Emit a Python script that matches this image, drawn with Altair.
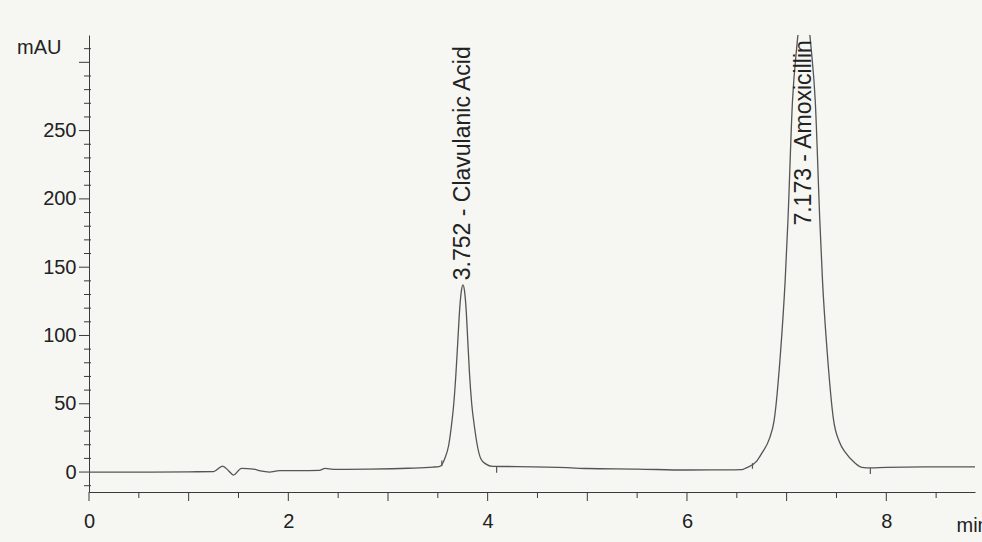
import altair as alt
import pandas as pd

# ---- data ----
# trace: retention time (min) and absorbance (mAU)
time_min = [
    0.00, 0.50, 1.00, 1.25, 1.34, 1.40, 1.45, 1.53, 1.65, 1.72, 1.81, 1.91,
    2.10, 2.31, 2.37, 2.45, 2.80, 3.20, 3.45,
    3.52, 3.57, 3.61, 3.635, 3.66, 3.68, 3.70, 3.72, 3.737, 3.752, 3.767,
    3.785, 3.80, 3.818, 3.84, 3.868, 3.895, 3.93, 3.98, 4.05,
    4.30, 4.80, 5.00, 5.50, 6.00, 6.30, 6.55,
    6.593, 6.70, 6.753, 6.83, 6.875, 6.938, 6.985, 7.013, 7.059, 7.10, 7.138,
    7.173, 7.208, 7.246, 7.287, 7.333, 7.36, 7.408, 7.471, 7.53, 7.593, 7.68,
    7.753, 7.85, 8.00, 8.50, 8.89,
]
mau = [
    0.0, 0.0, 0.2, 0.3, 4.4, 1.0, -2.2, 2.7, 2.2, 0.8, 0.0, 1.0,
    1.0, 1.2, 2.7, 2.0, 2.2, 2.8, 3.6,
    4.2, 10, 20, 33, 50, 70, 95, 120, 133, 137, 133,
    118, 97, 72, 50, 33, 20, 10, 6, 4.2,
    4.0, 3.2, 2.6, 2.2, 1.5, 1.6, 1.8,
    3, 8, 14, 25, 38, 87, 140, 184, 272, 310, 335,
    345, 335, 310, 272, 184, 140, 87, 38, 22, 14, 7,
    3.5, 3.0, 3.5, 3.8, 3.8,
]

# peak annotations
peak_rt = [3.752, 7.173]
peak_label_y = [139, 179]
peak_text = ["3.752 -  Clavulanic Acid", "7.173 -  Amoxicillin"]

# integration markers (start above baseline, end below)
mark_rt = [3.54, 4.09, 6.657, 7.84]
mark_y0 = [4.2, 4.0, 2.4, 3.0]
mark_y1 = [8.5, -0.5, 6.5, -1.5]

# axis tick positions
x_labels = [0, 2, 4, 6, 8]
x_minor = [i * 0.5 for i in range(0, 18)]
y_labels = [0, 50, 100, 150, 200, 250]
y_minor = list(range(-10, 320, 10))

X_MIN, X_MAX = 0, 8.89
Y_MIN, Y_MAX = -14.6, 320
PX_PER_MIN = 886 / (X_MAX - X_MIN)
PX_PER_MAU = 457 / (Y_MAX - Y_MIN)

trace = pd.DataFrame({"t": time_min, "v": mau})
labels = pd.DataFrame({"t": peak_rt, "v": peak_label_y, "txt": peak_text})
marks = pd.DataFrame({"t": mark_rt, "v0": mark_y0, "v1": mark_y1})

# tick tables (lengths are styling, in pixels converted to data units)
xt = pd.DataFrame({
    "t": x_minor,
    "v0": [Y_MIN] * len(x_minor),
    "v1": [Y_MIN - (9 if float(t).is_integer() else 6) / PX_PER_MAU for t in x_minor],
})
yt = pd.DataFrame({
    "v": y_minor,
    "t0": [X_MIN - (10 if v % 50 == 0 else 5) / PX_PER_MIN for v in y_minor],
    "t1": [X_MIN + (0 if v % 50 == 0 else 2) / PX_PER_MIN for v in y_minor],
})

FONT = "Liberation Sans, Arial"
INK = "#3a3a3a"

x_scale = alt.Scale(domain=[X_MIN, X_MAX], nice=False, zero=False)
y_scale = alt.Scale(domain=[Y_MIN, Y_MAX], nice=False, zero=False)

x_axis = alt.Axis(
    values=x_labels, format="d", ticks=False, labelOverlap=False, labelFlush=False,
    grid=False, domainColor=INK, labelColor="#222",
    labelFont=FONT, labelFontSize=20, labelPadding=19,
    title="min", titleFont=FONT, titleFontSize=20, titleFontWeight="normal",
    titleColor="#222", titleAnchor="start", titleAlign="left",
    titleX=867, titleY=39, titleBaseline="alphabetic",
)
y_axis = alt.Axis(
    values=y_labels, format="d", ticks=False, labelOverlap=False, labelFlush=False,
    grid=False, domainColor=INK, labelColor="#222",
    labelFont=FONT, labelFontSize=20, labelPadding=13,
    title="mAU", titleFont=FONT, titleFontSize=20, titleFontWeight="normal",
    titleColor="#222", titleAngle=0, titleAlign="right",
    titleX=-28, titleY=18, titleBaseline="alphabetic",
)

line = alt.Chart(trace).mark_line(
    color="#555555", strokeWidth=1.3, clip=True, interpolate="monotone"
).encode(
    x=alt.X("t:Q", scale=x_scale, axis=x_axis),
    y=alt.Y("v:Q", scale=y_scale, axis=y_axis),
)

integ = alt.Chart(marks).mark_rule(color="#555555", strokeWidth=1.2).encode(
    x=alt.X("t:Q", scale=x_scale),
    y=alt.Y("v0:Q", scale=y_scale),
    y2="v1:Q",
)

xticks = alt.Chart(xt).mark_rule(color=INK, strokeWidth=1).encode(
    x=alt.X("t:Q", scale=x_scale),
    y=alt.Y("v0:Q", scale=y_scale),
    y2="v1:Q",
)

yticks = alt.Chart(yt).mark_rule(color=INK, strokeWidth=1).encode(
    y=alt.Y("v:Q", scale=y_scale),
    x=alt.X("t0:Q", scale=x_scale),
    x2="t1:Q",
)

text = alt.Chart(labels).mark_text(
    angle=270, align="left", baseline="middle", font=FONT,
    fontSize=23, color="#222", dx=2,
).encode(
    x=alt.X("t:Q", scale=x_scale),
    y=alt.Y("v:Q", scale=y_scale),
    text="txt:N",
)

chart = alt.layer(line, integ, xticks, yticks, text).properties(
    width=886, height=457,
    background="#f6f7f3",
    autosize=alt.AutoSizeParams(type="none"),
    padding={"left": 89, "top": 35, "right": 7, "bottom": 50},
).configure_view(stroke=None)

chart.save("out.html", embed_options={"renderer": "svg", "actions": False})
